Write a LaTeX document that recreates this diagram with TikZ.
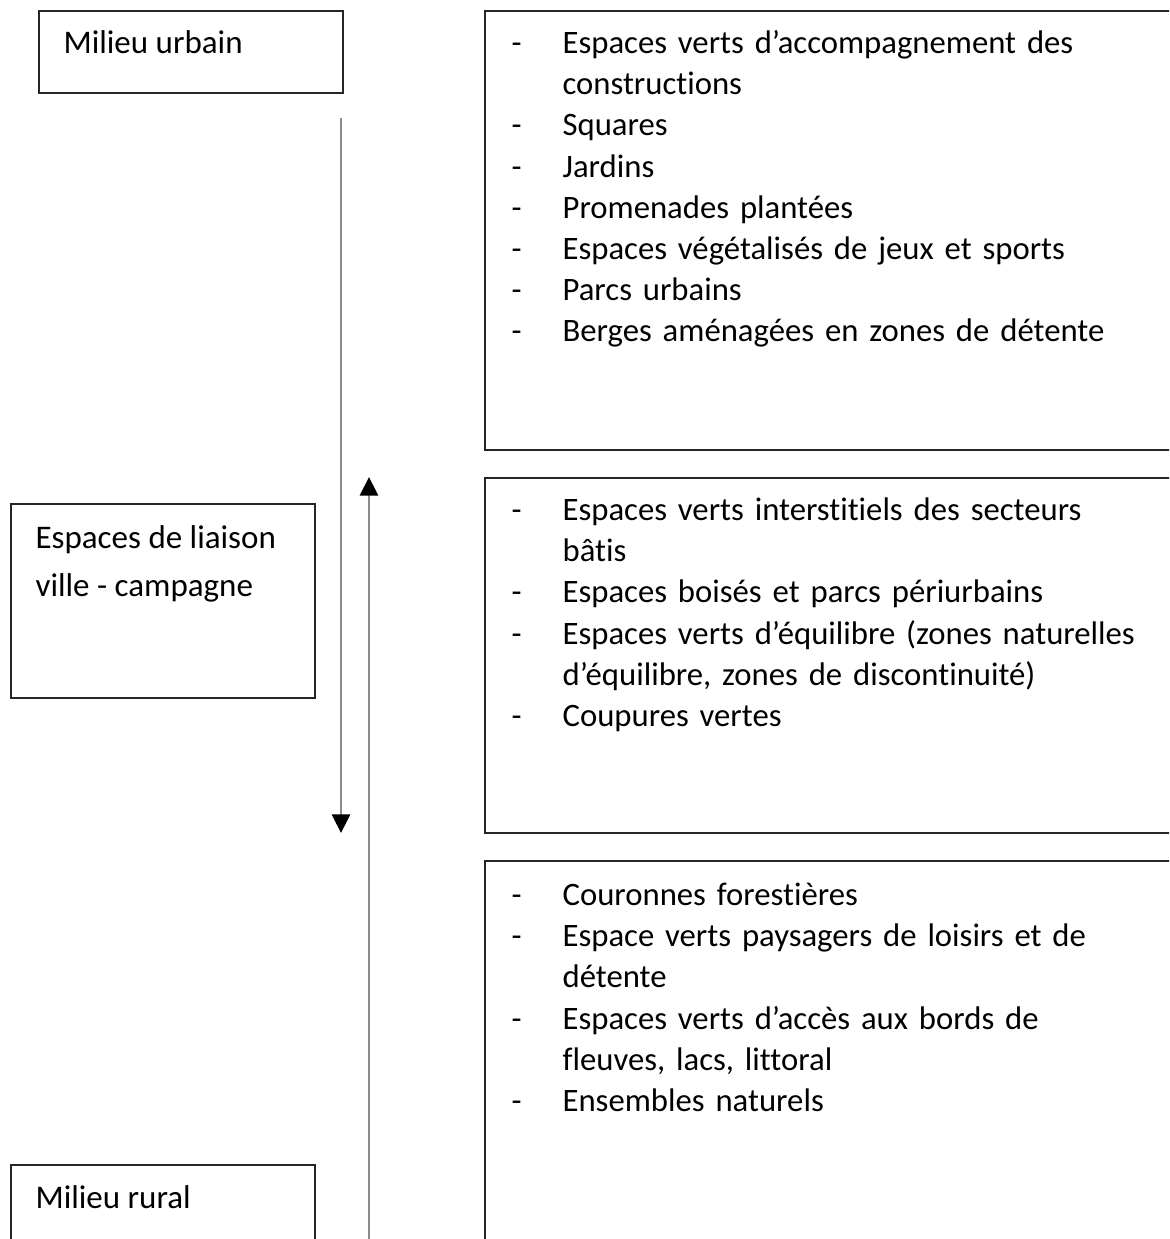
\documentclass[tikz,border=0pt]{standalone}
\usepackage{fontspec}
\setmainfont{Carlito}[Ligatures=NoCommon]
\usetikzlibrary{arrows.meta,positioning}
\tikzstyle{frame}=[draw=black!85,line width=0.7pt,anchor=north west,inner sep=0pt,minimum width=101.3pt]
\tikzstyle{label}=[anchor=west,inner sep=0pt,align=left,font=\fontsize{11}{16}\selectfont]
\tikzstyle{list}=[anchor=north west,inner sep=0pt,text width=250pt,font=\fontsize{10.9}{13.7}\selectfont]
\tikzstyle{flow}=[draw=black!45,line width=0.9pt,-{Triangle[width=6pt,length=6.2pt,color=black]}]
\newcommand{\entry}[1]{\par\hangindent=17pt\hangafter=1\makebox[17pt][l]{-}#1}

\begin{document}
\begin{tikzpicture}[x=0.3333pt,y=-0.3333pt]
  \useasboundingbox (0,0) rectangle (1169,1239);
  \clip (0,0) rectangle (1169,1239);

  \node[frame,minimum height=27.3pt] (urbain)  at (38,10)   {};
  \node[frame,minimum height=64.7pt] (liaison) at (10,503)  {};
  \node[frame,minimum height=35pt]   (rural)   at (10,1164) {};
  \node[frame,minimum width=240pt,minimum height=146.3pt] (accomp)    at (484,10)  {};
  \node[frame,minimum width=240pt,minimum height=118.3pt] (interst)   at (484,477) {};
  \node[frame,minimum width=240pt,minimum height=140pt]   (couronnes) at (484,860) {};

  \node[label] (t-urbain)  at (63,42)   {Milieu urbain};
  \node[label] (t-liaison) at (35,564)  {Espaces de liaison\\ville - campagne};
  \node[label] (t-rural)   at (35,1197) {Milieu rural};

  \node[list] (l-accomp) at (511,12) {\raggedright
    \entry{Espaces verts d’accompagnement des\newline constructions}
    \entry{Squares}
    \entry{Jardins}
    \entry{Promenades plantées}
    \entry{Espaces végétalisés de jeux et sports}
    \entry{Parcs urbains}
    \entry{Berges aménagées en zones de détente}};
  \node[list] (l-interst) at (511,479) {\raggedright
    \entry{Espaces verts interstitiels des secteurs\newline bâtis}
    \entry{Espaces boisés et parcs périurbains}
    \entry{Espaces verts d’équilibre (zones naturelles\newline d’équilibre, zones de discontinuité)}
    \entry{Coupures vertes}};
  \node[list] (l-couronnes) at (511,864) {\raggedright
    \entry{Couronnes forestières}
    \entry{Espace verts paysagers de loisirs et de\newline détente}
    \entry{Espaces verts d’accès aux bords de\newline fleuves, lacs, littoral}
    \entry{Ensembles naturels}};

  \coordinate (down-a) at (341,118);
  \coordinate (down-b) at (341,833);
  \coordinate (up-a)   at (369,1250);
  \coordinate (up-b)   at (369,477);

  \foreach \from/\to in {down-a/down-b,up-a/up-b}
      \draw[flow] (\from) -- (\to);
\end{tikzpicture}
\end{document}
